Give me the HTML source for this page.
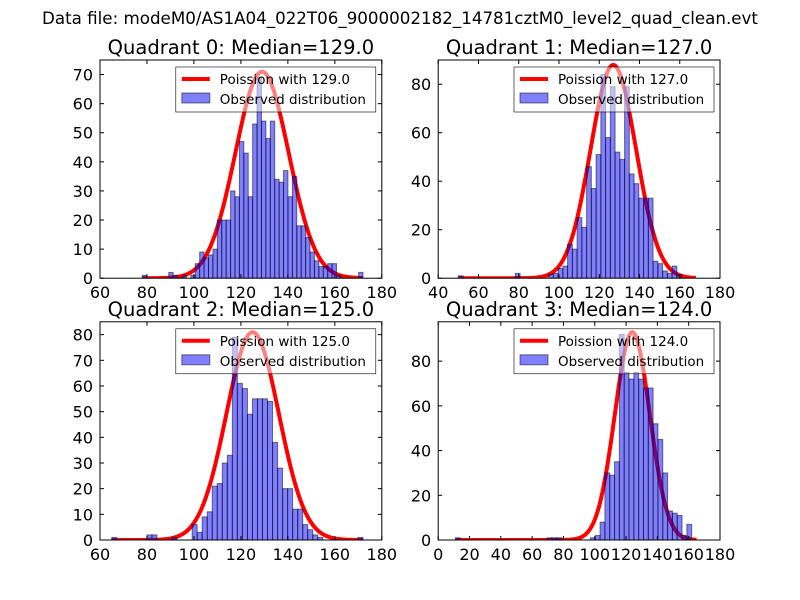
<!DOCTYPE html>
<html><head><meta charset="utf-8"><style>
body{margin:0;background:#fff;}
svg{display:block;font-family:"DejaVu Sans","Liberation Sans",sans-serif;}
</style></head><body>
<svg id="fig" width="800" height="600" viewBox="0 0 800 600">
<rect width="800" height="600" fill="#fff"/>
<text x="400" y="24" text-anchor="middle" font-size="16.7">Data file: modeM0/AS1A04_022T06_9000002182_14781cztM0_level2_quad_clean.evt</text>
</svg>
<script>
// Quadrant 0
const q0Counts=[1,0,0,0,0,0,2,1,0,1,0,1,5,9,7,8,10,20,20,20,30,28,47,43,28,53,69,54,48,54,34,33,37,28,35,18,18,14,9,6,4,4,5,5,1,0,0,0,0,2];
const q0Range=[78,172];
const q0Median=129.0;
const q0Peak=71;
const q0XTicks=[60,80,100,120,140,160,180];
const q0YTicks=[0,10,20,30,40,50,60,70];
// Quadrant 1
const q1Counts=[1,0,0,0,0,0,0,0,0,0,0,0,2,0,0,0,0,0,0,1.5,2,4,5,14,12,25,21,46,37,51,84,58,79,52,49,79,43,39,33,33,33,7,6,3,2,5,1.5,0,0,0];
const q1Range=[50,168];
const q1Median=127.0;
const q1Peak=88;
const q1XTicks=[40,60,80,100,120,140,160,180];
const q1YTicks=[0,20,40,60,80];
// Quadrant 2
const q2Counts=[1,0,0,0,0,0,0,2,2,0,0,0,1,0,0,0,6,3,9,11,21,22,30,33,79,61,59,49,55,55,55,54,38,28,20,20,12,12,6,4,2,1,0,0,0,0,0,0,0,1];
const q2Range=[65,172];
const q2Median=125.0;
const q2Peak=81;
const q2XTicks=[60,80,100,120,140,160,180];
const q2YTicks=[0,10,20,30,40,50,60,70,80];
// Quadrant 3
const q3Counts=[1,0,0,0,0,0,0,0,0,0,0,0,0,0,0,0,0,0,0,1,1,1,0,0,0,0,0,0,1,2,8,30,29,35,92,75,72,75,72,68,68,52,45,30,13,12,11,2,7,0];
const q3Range=[11,165];
const q3Median=124.0;
const q3Peak=93;
const q3XTicks=[0,20,40,60,80,100,120,140,160,180];
const q3YTicks=[0,20,40,60,80];

const panels=[
 {i:0,c:q0Counts,r:q0Range,m:q0Median,p:q0Peak,xt:q0XTicks,yt:q0YTicks,x0:100,y0:60,xmin:60,xmax:180,ymax:75},
 {i:1,c:q1Counts,r:q1Range,m:q1Median,p:q1Peak,xt:q1XTicks,yt:q1YTicks,x0:438.2,y0:60,xmin:40,xmax:180,ymax:90},
 {i:2,c:q2Counts,r:q2Range,m:q2Median,p:q2Peak,xt:q2XTicks,yt:q2YTicks,x0:100,y0:321.8,xmin:60,xmax:180,ymax:85},
 {i:3,c:q3Counts,r:q3Range,m:q3Median,p:q3Peak,xt:q3XTicks,yt:q3YTicks,x0:438.2,y0:321.8,xmin:0,xmax:180,ymax:97.6}
];
const NS="http://www.w3.org/2000/svg";
const fig=document.getElementById('fig');
function mk(tag,attrs,parent){const e=document.createElementNS(NS,tag);for(const k in attrs)e.setAttribute(k,attrs[k]);(parent||fig).appendChild(e);return e;}
const W=281.8,H=218.2;
panels.forEach(P=>{
 const g=mk('g',{});
 
 
 const sx=v=>P.x0+(v-P.xmin)/(P.xmax-P.xmin)*W;
 const sy=v=>P.y0+H-v/P.ymax*H;
 const clipId='clip'+P.i;
 const cp=mk('clipPath',{id:clipId},g);mk('rect',{x:P.x0,y:P.y0,width:W,height:H},cp);
 const inner=mk('g',{'clip-path':'url(#'+clipId+')'},g);
 let d='';const sig=Math.sqrt(P.m);
 for(let x=P.r[0];x<=P.r[1]+0.01;x+=1){const y=P.p*Math.exp(-0.5*Math.pow((x-P.m)/sig,2));d+=(d?'L':'M')+sx(x).toFixed(1)+','+sy(y).toFixed(1);}
 const line=mk('path',{d:d,fill:'none',stroke:'#ff0000','stroke-width':4,'stroke-linejoin':'round'},inner);
 
 
 const bw=(P.r[1]-P.r[0])/P.c.length;
 P.c.forEach((v,k)=>{if(v<=0)return;const x=P.r[0]+k*bw;
  const b=mk('rect',{x:sx(x),y:sy(v),width:sx(x+bw)-sx(x),height:sy(0)-sy(v),fill:'rgba(0,0,255,0.5)',stroke:'rgba(0,0,0,0.5)','stroke-width':1},inner);
  
  });
 mk('rect',{x:P.x0,y:P.y0,width:W,height:H,fill:'none',stroke:'#000','stroke-width':1},g);
 P.xt.forEach(t=>{const x=sx(t);
  mk('line',{x1:x,x2:x,y1:P.y0+H,y2:P.y0+H-4,stroke:'#000'},g);mk('line',{x1:x,x2:x,y1:P.y0,y2:P.y0+4,stroke:'#000'},g);
  const tl=mk('text',{x:x,y:P.y0+H+20,'text-anchor':'middle','font-size':16},g);tl.textContent=t;
  
  });
 P.yt.forEach(t=>{const y=sy(t);
  mk('line',{x1:P.x0,x2:P.x0+4,y1:y,y2:y,stroke:'#000'},g);mk('line',{x1:P.x0+W,x2:P.x0+W-4,y1:y,y2:y,stroke:'#000'},g);
  const tl=mk('text',{x:P.x0-7,y:y+6,'text-anchor':'end','font-size':16},g);tl.textContent=t;
  
  });
 const ti=mk('text',{x:P.x0+W/2,y:P.y0-6,'text-anchor':'middle','font-size':19.5},g);
 ti.textContent='Quadrant '+P.i+': Median='+P.m.toFixed(1);
 
 
 const lg=mk('g',{},g);
 
 
 const lx=P.x0+W-206,ly=P.y0+7;
 mk('rect',{x:lx,y:ly,width:200,height:45,fill:'rgba(255,255,255,0.5)',stroke:'#000','stroke-width':0.6},lg);
 mk('line',{x1:lx+6,x2:lx+34,y1:ly+12,y2:ly+12,stroke:'#ff0000','stroke-width':4},lg);
 const t1=mk('text',{x:lx+44,y:ly+17,'font-size':13.5},lg);t1.textContent='Poission with '+P.m.toFixed(1);
 mk('rect',{x:lx+6,y:ly+26,width:28,height:10,fill:'rgba(0,0,255,0.5)',stroke:'rgba(0,0,0,0.5)'},lg);
 const t2=mk('text',{x:lx+44,y:ly+37,'font-size':13.5},lg);t2.textContent='Observed distribution';
});
</script>
</body></html>
